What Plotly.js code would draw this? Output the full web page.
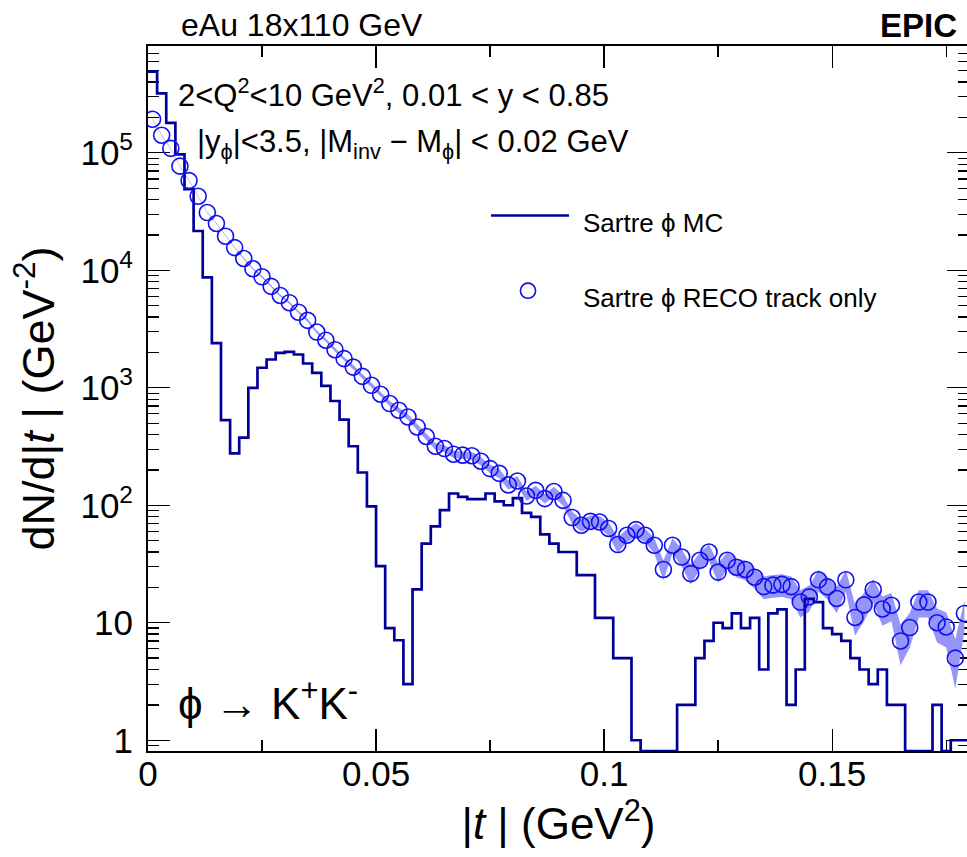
<!DOCTYPE html>
<html>
<head>
<meta charset="utf-8">
<script src="https://cdn.plot.ly/plotly-3.0.1.min.js"></script>
<style>html,body{margin:0;padding:0;background:#fff;overflow:hidden;}#chart{width:969px;height:857px;}</style>
</head>
<body>
<div id="chart"></div>
<script>
// ---- binning of |t| (GeV^2) ----
const tMin = 0.0;
const tMax = 0.18;
const nBins = 90;

// ---- Sartre phi MC histogram, dN/d|t| per bin ----
const mcValues = [
  490000, 320000, 180000, 97000, 49000, 21600, 8700, 2400, 530, 276,
  377, 1000, 1480, 1740, 1980, 2020, 1920, 1610, 1340, 1040,
  772, 536, 318, 190, 98, 30.3, 9.0, 7.1, 3.0, 19.2,
  47.2, 66, 91, 126, 118, 113, 113, 126, 108, 100,
  115, 86, 79.5, 56.6, 47.2, 40, 40, 25.4, 25.4, 11,
  11, 5, 5, 1, 0, 0, 0, 0, 2, 2,
  5, 7, 10, 9, 12, 9, 11, 4, 12, 13,
  2, 4, 16, 15, 9, 8, 7, 5, 4, 3,
  4, 2, 2, 0, 0, 0, 2, 0, 1, 1
];

// ---- Sartre phi RECO (track only), dN/d|t| per bin ----
const recoValues = [
  193000, 141000, 109000, 77000, 58000, 42700, 31000, 25000, 19500, 15600,
  12600, 10300, 8800, 7300, 6100, 5300, 4400, 3750, 2980, 2540,
  2110, 1770, 1500, 1250, 1050, 881, 734, 644, 564, 464,
  385, 318, 304, 272, 267, 264, 237, 205, 187, 149,
  161, 120, 134, 114, 131, 110, 78.6, 67.6, 73, 72,
  63.4, 46.3, 55.6, 62.1, 55.6, 45.7, 28.4, 45.7, 36.3, 26.2,
  34, 40, 27, 34, 29.7, 28.4, 24.4, 20.3, 20.9, 21.2,
  20.3, 15.0, 16.6, 23.2, 20.2, 16.1, 23.2, 11.1, 14.2, 19.2,
  13.1, 14.1, 7.0, 9.1, 15.0, 15.0, 10.0, 9.2, 5.0, 12.0
];

// ---- relative uncertainty of RECO points (error band half-width) ----
const recoRelErr = [
  0.01, 0.01, 0.01, 0.01, 0.01, 0.01, 0.01, 0.01, 0.01, 0.01,
  0.015, 0.015, 0.02, 0.02, 0.02, 0.025, 0.025, 0.03, 0.03, 0.03,
  0.035, 0.035, 0.04, 0.04, 0.045, 0.045, 0.05, 0.05, 0.055, 0.06,
  0.06, 0.065, 0.07, 0.07, 0.07, 0.075, 0.08, 0.08, 0.09, 0.085,
  0.095, 0.09, 0.095, 0.09, 0.1, 0.1, 0.12, 0.12, 0.12, 0.12,
  0.13, 0.15, 0.13, 0.13, 0.13, 0.15, 0.19, 0.15, 0.17, 0.19,
  0.17, 0.16, 0.19, 0.17, 0.18, 0.19, 0.2, 0.22, 0.22, 0.22,
  0.22, 0.26, 0.25, 0.21, 0.22, 0.25, 0.21, 0.3, 0.27, 0.23,
  0.28, 0.27, 0.38, 0.33, 0.26, 0.26, 0.32, 0.33, 0.45, 0.29
];

// ---- tick labels ----
const xTickVals = [0, 0.05, 0.1, 0.15];
const xTickText = ['0', '0.05', '0.1', '0.15'];
const yTickVals = [1, 10, 100, 1000, 10000, 100000];
const yTickText = ['1', '10', '10<sup>2</sup>', '10<sup>3</sup>', '10<sup>4</sup>', '10<sup>5</sup>'];

// ---- derived ----
const binW = (tMax - tMin) / nBins;
const edges = [];
for (let i = 0; i <= nBins; i++) edges.push(tMin + i * binW);
const centers = [];
for (let i = 0; i < nBins; i++) centers.push(tMin + (i + 0.5) * binW);

const yLogMin = Math.log10(0.81);
const yLogMax = 5.909;
const yFloor = Math.pow(10, yLogMin);

const mcY = mcValues.map(v => v > 0 ? v : yFloor);
mcY.push(mcY[mcY.length - 1]);

const bandLo = recoValues.map((v, i) => v * (1 - recoRelErr[i]));
const bandHi = recoValues.map((v, i) => v * (1 + recoRelErr[i]));

const minorY = [];
for (let d = -1; d <= 5; d++) for (let m = 2; m <= 9; m++) {
  const v = m * Math.pow(10, d);
  if (Math.log10(v) > yLogMin && Math.log10(v) < yLogMax) minorY.push(v);
}

const FONT = 'Liberation Sans, Arial, Helvetica, sans-serif';
const navy = '#000099';
const blue = 'rgb(15,15,240)';
const bandColor = 'rgb(150,150,250)';

const traces = [
  { x: centers, y: bandLo, type: 'scatter', mode: 'lines', line: {width: 0, color: bandColor},
    hoverinfo: 'skip', showlegend: false },
  { x: centers, y: bandHi, type: 'scatter', mode: 'lines', line: {width: 0, color: bandColor},
    fill: 'tonexty', fillcolor: bandColor, hoverinfo: 'skip', showlegend: false },
  { x: edges, y: mcY, type: 'scatter', mode: 'lines', name: 'Sartre \u03d5 MC',
    line: {shape: 'hv', color: navy, width: 2.7}, showlegend: false },
  { x: centers, y: recoValues, type: 'scatter', mode: 'markers', name: 'Sartre \u03d5 RECO track only',
    marker: {symbol: 'circle-open', size: 16, color: blue, line: {width: 1.6, color: blue}},
    showlegend: false }
];

const L = 148, R = 0, T = 46, B = 106;
const W = 969, H = 857;
const pw = W - L - R, ph = H - T - B;
const px = x => (x - L) / pw;
const py = y => (H - B - y) / ph;

const ann = (text, x, y, size, opts) => Object.assign({
  text: text, xref: 'paper', yref: 'paper', x: px(x), y: py(y), showarrow: false,
  xanchor: 'left', yanchor: 'middle', font: {family: FONT, size: size, color: '#000'}
}, opts || {});

const layout = {
  width: W, height: H,
  margin: {l: L, r: R, t: T, b: B, pad: 0},
  paper_bgcolor: '#fff', plot_bgcolor: '#fff',
  font: {family: FONT, color: '#000'},
  showlegend: false,
  xaxis: {
    range: [tMin, tMax], showgrid: false, zeroline: false,
    showline: true, linecolor: '#000', linewidth: 2, mirror: 'allticks',
    ticks: 'inside', ticklen: 22, tickwidth: 1.3, tickcolor: '#000',
    tickvals: xTickVals, ticktext: xTickText,
    tickfont: {family: FONT, size: 35, color: '#000'}, ticklabelstandoff: -9,
    minor: {dtick: 0.025, ticks: 'inside', ticklen: 11, tickwidth: 1.3, tickcolor: '#000', showgrid: false},
    title: {text: '|<i>t</i> | (GeV<sup>2</sup>)', font: {family: FONT, size: 44, color: '#000'}, standoff: 4},
    layer: 'below traces'
  },
  yaxis: {
    type: 'log', range: [yLogMin, yLogMax], showgrid: false, zeroline: false,
    showline: true, linecolor: '#000', linewidth: 2, mirror: 'allticks',
    ticks: 'inside', ticklen: 22, tickwidth: 1.3, tickcolor: '#000',
    tickvals: yTickVals, ticktext: yTickText,
    tickfont: {family: FONT, size: 35, color: '#000'}, ticklabelstandoff: 6,
    minor: {tickvals: minorY, ticks: 'inside', ticklen: 11, tickwidth: 1.3, tickcolor: '#000', showgrid: false},
    title: {text: 'dN/d|<i>t</i> | (GeV<sup>-2</sup>)', font: {family: FONT, size: 45, color: '#000'}, standoff: 12},
    layer: 'below traces'
  },
  shapes: [
    {type: 'line', xref: 'paper', yref: 'paper', x0: px(491), x1: px(569), y0: py(215.5), y1: py(215.5),
     line: {color: navy, width: 2.7}},
    {type: 'circle', xref: 'paper', yref: 'paper', xsizemode: 'pixel', ysizemode: 'pixel',
     xanchor: px(528), yanchor: py(290.7), x0: -7.6, x1: 7.6, y0: -7.6, y1: 7.6,
     line: {color: blue, width: 1.6}}
  ],
  annotations: [
    ann('eAu 18x110 GeV', 179, 25, 32),
    ann('<b>EPIC</b>', 959, 25, 33, {xanchor: 'right'}),
    ann('2<Q<sup>2</sup><10 GeV<sup>2</sup>, 0.01 < y < 0.85', 176, 93, 31),
    ann('|y<sub>\u03d5</sub>|<3.5, |M<sub>inv</sub> \u2212 M<sub>\u03d5</sub>| < 0.02 GeV', 195, 144, 31),
    ann('Sartre \u03d5 MC', 581, 223, 26),
    ann('Sartre \u03d5 RECO track only', 581, 298, 26),
    ann('\u03d5 \u2192 K<sup>+</sup>K<sup>-</sup>', 176, 700, 44)
  ]
};

Plotly.newPlot('chart', traces, layout, {displayModeBar: false, staticPlot: true});
</script>
</body>
</html>
